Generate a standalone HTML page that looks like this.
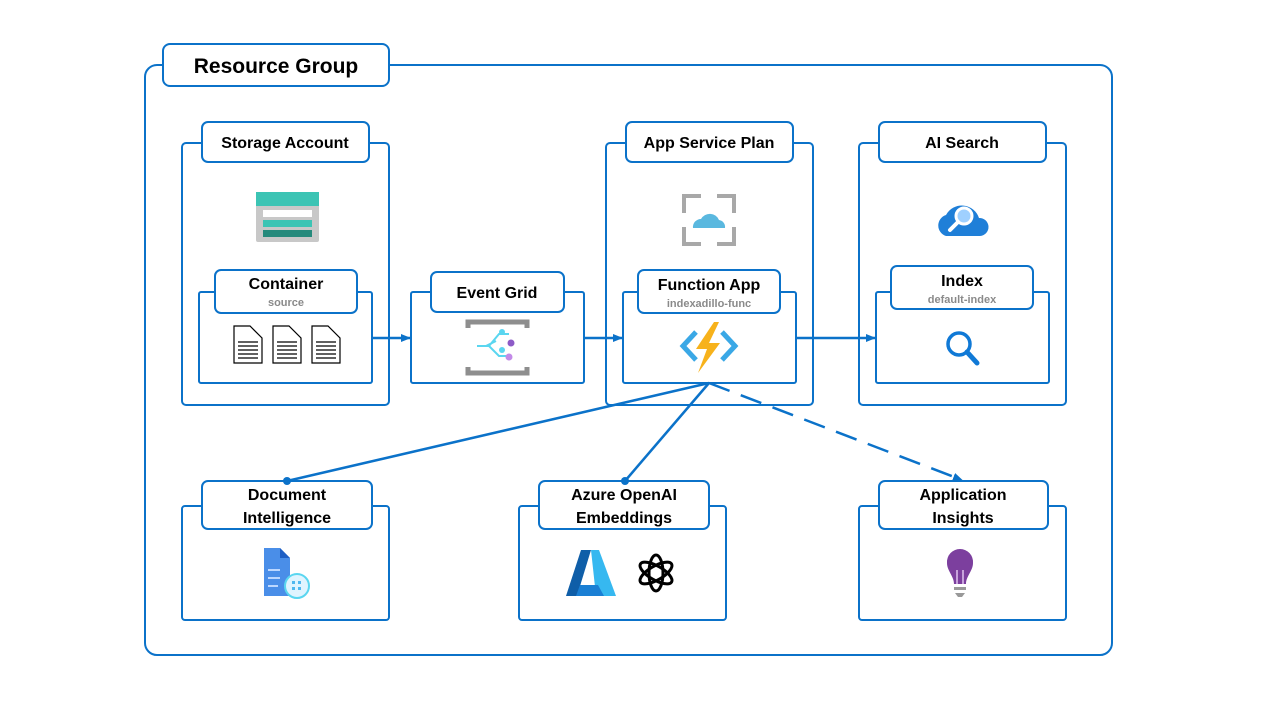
<!DOCTYPE html>
<html><head><meta charset="utf-8"><style>
html,body{margin:0;padding:0;background:#fff;}
svg{display:block;}
text{font-family:"Liberation Sans",sans-serif;font-weight:bold;fill:#000;}
.sub{fill:#8a8a8a;font-size:11px;}
</style></head><body>
<svg width="1280" height="720" viewBox="0 0 1280 720" xmlns="http://www.w3.org/2000/svg">
<defs>
<marker id="ar" markerWidth="10" markerHeight="10" refX="9" refY="5" orient="auto" markerUnits="userSpaceOnUse"><path d="M0,1 L10,5 L0,9 z" fill="#0b72c9"/></marker>
</defs>
<g fill="#fff" stroke="#0b72c9" stroke-width="2">
<rect x="145" y="65" width="967" height="590" rx="12"/>
<rect x="163" y="44" width="226" height="42" rx="7"/>
<rect x="182" y="143" width="207" height="262" rx="4"/>
<rect x="202" y="122" width="167" height="40" rx="6"/>
<rect x="199" y="292" width="173" height="91" rx="2"/>
<rect x="215" y="270" width="142" height="43" rx="6"/>
<rect x="411" y="292" width="173" height="91" rx="2"/>
<rect x="431" y="272" width="133" height="40" rx="6"/>
<rect x="606" y="143" width="207" height="262" rx="4"/>
<rect x="626" y="122" width="167" height="40" rx="6"/>
<rect x="623" y="292" width="173" height="91" rx="2"/>
<rect x="638" y="270" width="142" height="43" rx="6"/>
<rect x="859" y="143" width="207" height="262" rx="4"/>
<rect x="879" y="122" width="167" height="40" rx="6"/>
<rect x="876" y="292" width="173" height="91" rx="2"/>
<rect x="891" y="266" width="142" height="43" rx="6"/>
<rect x="182" y="506" width="207" height="114" rx="3"/>
<rect x="519" y="506" width="207" height="114" rx="3"/>
<rect x="859" y="506" width="207" height="114" rx="3"/>
</g>
<g stroke="#0b72c9" stroke-width="2.5" fill="none">
<line x1="372" y1="338" x2="410" y2="338" marker-end="url(#ar)"/>
<line x1="584" y1="338" x2="622" y2="338" marker-end="url(#ar)"/>
<line x1="796" y1="338" x2="875" y2="338" marker-end="url(#ar)"/>
<line x1="709" y1="383" x2="287" y2="481"/>
<line x1="709" y1="383" x2="625" y2="481"/>
<line x1="709" y1="383" x2="962" y2="480" stroke-dasharray="22,12" marker-end="url(#ar)"/>
</g>
<g fill="#fff" stroke="#0b72c9" stroke-width="2">
<rect x="202" y="481" width="170" height="48" rx="6"/>
<rect x="539" y="481" width="170" height="48" rx="6"/>
<rect x="879" y="481" width="169" height="48" rx="6"/>
</g>
<circle cx="287" cy="481" r="4" fill="#0b72c9"/>
<circle cx="625" cy="481" r="4" fill="#0b72c9"/>
<text x="276" y="73" font-size="21" text-anchor="middle">Resource Group</text>
<text x="285" y="148" font-size="16" text-anchor="middle">Storage Account</text>
<text x="286" y="289" font-size="16" text-anchor="middle">Container</text>
<text x="286" y="306" class="sub" text-anchor="middle">source</text>
<text x="497" y="298" font-size="16" text-anchor="middle">Event Grid</text>
<text x="709" y="148" font-size="16" text-anchor="middle">App Service Plan</text>
<text x="709" y="290" font-size="16" text-anchor="middle">Function App</text>
<text x="709" y="307" class="sub" text-anchor="middle">indexadillo-func</text>
<text x="962" y="148" font-size="16" text-anchor="middle">AI Search</text>
<text x="962" y="286" font-size="16" text-anchor="middle">Index</text>
<text x="962" y="303" class="sub" text-anchor="middle">default-index</text>
<text x="287" y="500" font-size="16" text-anchor="middle">Document</text>
<text x="287" y="523" font-size="16" text-anchor="middle">Intelligence</text>
<text x="624" y="500" font-size="16" text-anchor="middle">Azure OpenAI</text>
<text x="624" y="523" font-size="16" text-anchor="middle">Embeddings</text>
<text x="963" y="500" font-size="16" text-anchor="middle">Application</text>
<text x="963" y="523" font-size="16" text-anchor="middle">Insights</text>
<rect x="256" y="192" width="63" height="50" rx="2" fill="#c8c8c8"/>
<rect x="256" y="192" width="63" height="14" fill="#3cc4b4"/>
<rect x="263" y="210" width="49" height="7" fill="#fff"/>
<rect x="263" y="220" width="49" height="7" fill="#3cc4b4"/>
<rect x="263" y="230" width="49" height="7" fill="#258a7c"/>
<g fill="#fff" stroke="#000" stroke-width="1.2">
<path d="M234,326 h16 l12,12 v25 h-28z"/>
<path d="M273,326 h16 l12,12 v25 h-28z"/>
<path d="M312,326 h16 l12,12 v25 h-28z"/>
</g>
<g stroke="#000" stroke-width="1.2">
<path d="M238,342h20M238,346h20M238,350h20M238,354h20M238,358h20M277,342h20M277,346h20M277,350h20M277,354h20M277,358h20M316,342h20M316,346h20M316,350h20M316,354h20M316,358h20"/>
</g>
<path d="M468,328v-6h59v6M468,367v6h59v-6" stroke="#8e8e8e" stroke-width="5" fill="none"/>
<g stroke="#5ad6f0" stroke-width="2" fill="none"><path d="M477,346h12l10,-12h10M489,346l10,10h10M486,346l10,-5"/></g>
<circle cx="502" cy="332" r="3" fill="#5ad6f0"/><circle cx="511" cy="343" r="3.5" fill="#8d5bc7"/><circle cx="502" cy="350" r="3" fill="#5ad6f0"/><circle cx="509" cy="357" r="3.5" fill="#c38ae8"/>
<g stroke="#a8a8a8" stroke-width="4" fill="none"><path d="M684,213v-17h17M717,196h17v17M684,227v17h17M717,244h17v-17"/></g>
<path d="M693,228 a8,8 0 0 1 8,-9 a10,10 0 0 1 18,1 a7,7 0 0 1 6,8z" fill="#5ab8df"/>
<path d="M696,332l-13,14l13,14M722,332l13,14l-13,14" stroke="#3aa8e6" stroke-width="5" fill="none"/>
<path d="M714,322l-18,27h11l-9,24l22,-30h-11l10,-21z" fill="#f7b21b"/>
<path d="M946,236 a11,11 0 0 1 0,-21 a18,18 0 0 1 33,3 a9,9 0 0 1 1,18z" fill="#1f7fd8"/>
<circle cx="964" cy="216" r="8" fill="#9fd0ff" stroke="#fff" stroke-width="3"/>
<line x1="958" y1="222" x2="950" y2="230" stroke="#fff" stroke-width="4" stroke-linecap="round"/>
<circle cx="959" cy="344" r="11" fill="none" stroke="#1079d6" stroke-width="3.5"/>
<line x1="967" y1="352" x2="977" y2="363" stroke="#1079d6" stroke-width="5" stroke-linecap="round"/>
<path d="M264,548h16l10,10v38h-26z" fill="#4a8ee8"/>
<path d="M280,548l10,10h-10z" fill="#1e5fc4"/>
<g stroke="#bcd7ff" stroke-width="2"><path d="M268,570h12M268,578h12M268,586h10"/></g>
<circle cx="297" cy="586" r="12" fill="#dff4ff" stroke="#5ad6f0" stroke-width="2"/>
<g fill="#4fb8f0"><rect x="292" y="581" width="3" height="3"/><rect x="298" y="581" width="3" height="3"/><rect x="292" y="587" width="3" height="3"/><rect x="298" y="587" width="3" height="3"/></g>
<path d="M566,596l15,-46h10l-14,46z" fill="#0f5ea8"/>
<path d="M591,550h8l17,46h-20z" fill="#36b8f0"/>
<path d="M580,585h18l6,11h-28z" fill="#1a7fd4"/>
<g fill="none" stroke="#000" stroke-width="3">
<ellipse cx="656" cy="573" rx="7" ry="18"/>
<ellipse cx="656" cy="573" rx="7" ry="18" transform="rotate(60 656 573)"/>
<ellipse cx="656" cy="573" rx="7" ry="18" transform="rotate(-60 656 573)"/>
</g>
<path d="M960,549 a13,13 0 0 1 13,14 c0,8 -7,13 -7,21h-12c0,-8 -7,-13 -7,-21a13,13 0 0 1 13,-14z" fill="#7c3f9e"/>
<path d="M957,584v-14M963,584v-14" stroke="#e0c4ef" stroke-width="1.5"/>
<rect x="954" y="587" width="12" height="3" fill="#999"/>
<path d="M955,593h10l-3,4h-4z" fill="#999"/>
</svg>
</body></html>
